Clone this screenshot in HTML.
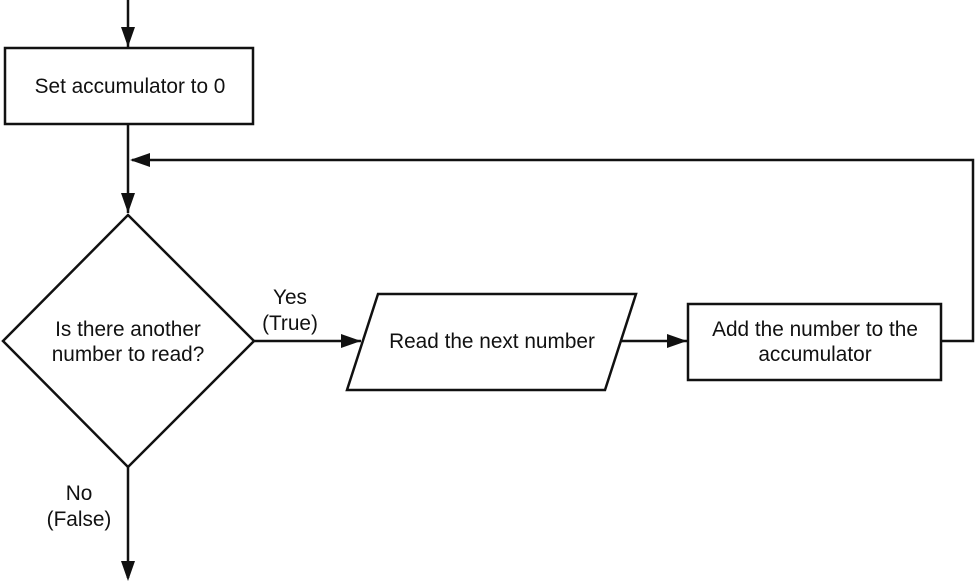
<!DOCTYPE html>
<html><head><style>html,body{margin:0;padding:0;background:#fff}</style></head><body>
<svg width="976" height="583" viewBox="0 0 976 583" xmlns="http://www.w3.org/2000/svg" font-family="Liberation Sans, sans-serif" font-size="20.8" fill="#111">
<g stroke="#111" stroke-width="2.5" fill="none">
<line x1="128" y1="0" x2="128" y2="47"/>
<rect x="5" y="48" width="248" height="76" fill="#fff"/>
<line x1="128" y1="124" x2="128" y2="213"/>
<polygon points="128,215 254,341 128,467 3,341" fill="#fff"/>
<polyline points="941,341 973,341 973,160 132,160"/>
<line x1="254" y1="341" x2="361" y2="341"/>
<polygon points="378,294 636,294 605,390 347,390" fill="#fff"/>
<line x1="620" y1="341" x2="687" y2="341"/>
<rect x="688" y="304" width="253" height="76" fill="#fff"/>
<line x1="128" y1="467" x2="128" y2="578"/>
</g>
<g fill="#111">
<path d="M121,27 L135,27 L128,47 z"/>
<path d="M121,193 L135,193 L128,213 z"/>
<path d="M150,153 L150,167 L130,160 z"/>
<path d="M341,334 L341,348 L361,341 z"/>
<path d="M667,334 L667,348 L687,341 z"/>
<path d="M121,561 L135,561 L128,581 z"/>
</g>
<g text-anchor="middle">
<text x="130" y="93">Set accumulator to 0</text>
<text x="128" y="336">Is there another</text>
<text x="128" y="361">number to read?</text>
<text x="290" y="304">Yes</text>
<text x="290" y="330">(True)</text>
<text x="492" y="348">Read the next number</text>
<text x="815" y="336">Add the number to the</text>
<text x="815" y="361">accumulator</text>
<text x="79" y="500">No</text>
<text x="79" y="526">(False)</text>
</g>
</svg>
</body></html>
